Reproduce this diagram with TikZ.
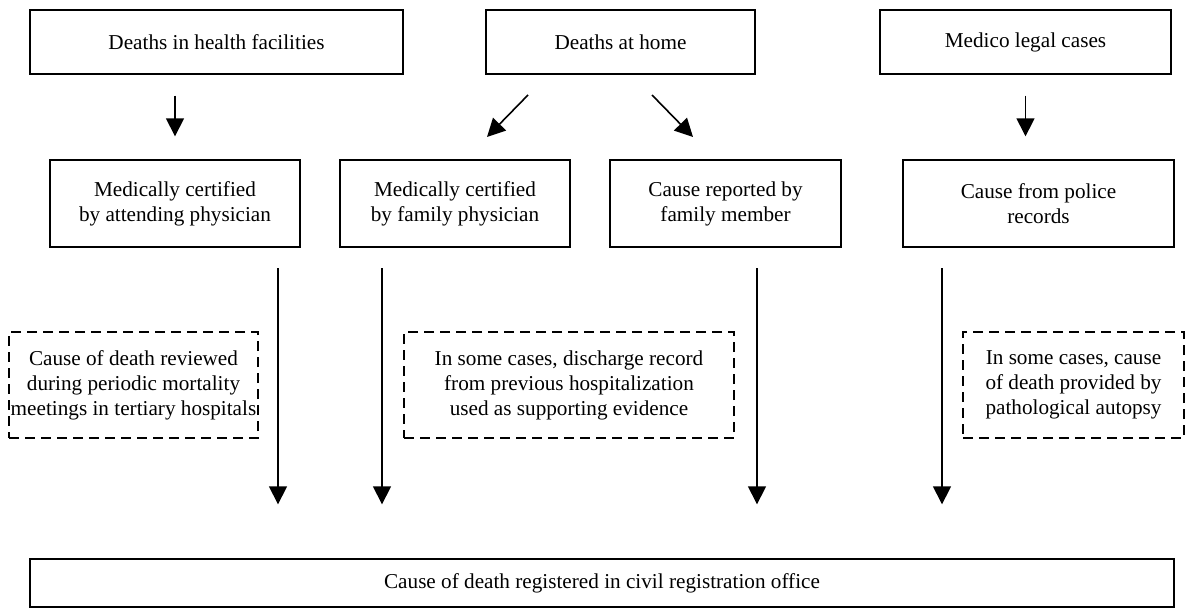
\documentclass[tikz,border=0pt]{standalone}
\usepackage{fontspec}
\setmainfont{Liberation Serif}
\usetikzlibrary{arrows.meta,positioning}

\begin{document}
\begin{tikzpicture}[
  x=0.5pt,y=-0.5pt,
  every node/.style={font=\fontsize{10.6}{12.5}\selectfont},
  box/.style={draw,line width=0.7pt,align=center,inner sep=0pt},
  note/.style={draw,dash pattern=on 5pt off 3pt,line width=0.7pt,align=center,inner sep=0pt},
  arr/.style={-{Triangle[length=9pt,width=9pt]},line width=0.8pt}
]
\useasboundingbox (0,0) rectangle (1186,609);
\node[box,minimum width=186.5pt,minimum height=32pt] (fac) at (216.5,42) {Deaths in health facilities};
\node[box,minimum width=134.5pt,minimum height=32pt] (home) at (620.5,42) {Deaths at home};
\node[box,minimum width=145.5pt,minimum height=32pt] (legal) at (1025.5,42) {Medico legal cases};
\node[box,minimum width=125pt,minimum height=43.5pt] (att) at (175,203.5) {Medically certified\\by attending physician};
\node[box,minimum width=115pt,minimum height=43.5pt] (fam) at (455,203.5) {Medically certified\\by family physician};
\node[box,minimum width=115.5pt,minimum height=43.5pt] (rep) at (725.5,203.5) {Cause reported by\\family member};
\node[box,minimum width=135.5pt,minimum height=43.5pt] (pol) at (1038.5,203.5) {Cause from police\\records};
\node[note,minimum width=124.5pt,minimum height=53pt] (rev) at (133.5,385) {Cause of death reviewed\\during periodic mortality\\meetings in tertiary hospitals};
\node[note,minimum width=165pt,minimum height=53pt] (dis) at (569,385) {In some cases, discharge record\\from previous hospitalization\\used as supporting evidence};
\node[note,minimum width=110.5pt,minimum height=53pt] (aut) at (1073.5,385) {In some cases, cause\\of death provided by\\pathological autopsy};
\node[box,minimum width=572pt,minimum height=24pt] (reg) at (602,583) {Cause of death registered in civil registration office};
\coordinate (h1) at (528,95);
\coordinate (t1) at (487,137);
\coordinate (h2) at (652,95);
\coordinate (t2) at (693,137);
\coordinate (c1) at (278,268);
\coordinate (c2) at (382,268);
\coordinate (c3) at (757,268);
\coordinate (c4) at (942,268);
\draw[arr,shorten <=10.5pt,shorten >=11.5pt] (fac.south -| att.north) -- (att.north);
\draw[arr,shorten <=10.5pt,shorten >=11.5pt] (legal.south) -- (legal.south |- pol.north);
\draw[arr] (h1) -- (t1);
\draw[arr] (h2) -- (t2);
\foreach \c in {c1,c2,c3,c4}
  \draw[arr,shorten >=27pt] (\c) -- (\c |- reg.north);
\end{tikzpicture}
\end{document}
